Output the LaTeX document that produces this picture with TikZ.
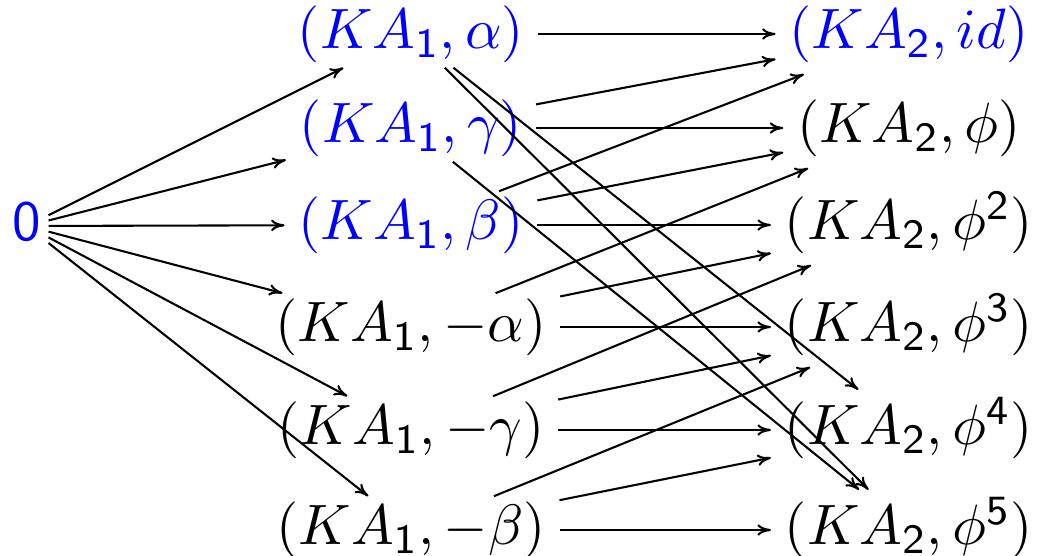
\documentclass[tikz,border=0pt]{standalone}
\usepackage{amsmath}
\usetikzlibrary{arrows.meta}

\tikzset{
  term/.style={inner xsep=2.5pt, inner ysep=0.6pt, text height=8.55pt, text depth=2.85pt},
  powterm/.style={term, text height=9.8pt, text depth=4.1pt},
  hom/.style={-{To[length=2.6pt,width=2.2pt]}, line width=0.4pt}
}

\begin{document}
\begin{tikzpicture}[x=0.1923pt, y=-0.1923pt, every node/.style={font=\fontsize{11.4}{13}\selectfont}]
  \useasboundingbox (0,0) rectangle (1039,556);
  \node[term, inner sep=1.2pt, text=blue] (zero) at (27,226) {$\mathsf{0}$};
  % first column: KA_1
  \foreach \nm/\y/\lab/\col in {a/34/\alpha/blue, g/128/\gamma/blue, b/225/\beta/blue,
      ma/327/-\alpha/black, mg/430/-\gamma/black, mb/530/-\beta/black} {
    \node[term, text=\col] (\nm) at (411,\y) {$(KA_{\mathsf{1}},\lab)$};
  }
  % second column: KA_2
  \foreach \i/\y/\lab/\col in {0/34/id/blue, 1/128/\phi/black, 2/225/\phi^{\mathsf{2}}/black,
      3/327/\phi^{\mathsf{3}}/black, 4/430/\phi^{\mathsf{4}}/black, 5/530/\phi^{\mathsf{5}}/black} {
    \node[powterm, text=\col] (p\i) at (909,\y) {$(KA_{\mathsf{2}},\lab)$};
  }
  \foreach \nm in {a,g,b,ma,mg,mb}
    \draw[hom] (zero) -- (\nm);
  \foreach \nm/\k in {a/4, g/5, b/0, ma/1, mg/2, mb/3} {
    \foreach \d in {0,1,2} {
      \pgfmathtruncatemacro\t{mod(\k+\d,6)}
      \draw[hom] (\nm) -- (p\t);
    }
  }
\end{tikzpicture}
\end{document}
